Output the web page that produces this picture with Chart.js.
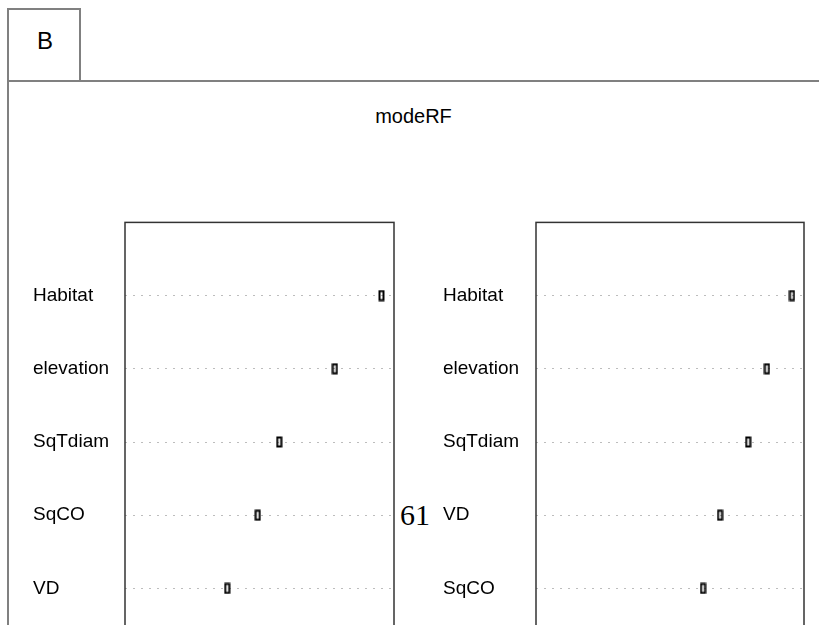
<!DOCTYPE html>
<html>
<head>
<meta charset="utf-8">
<script src="https://cdn.jsdelivr.net/npm/chart.js@4/dist/chart.umd.min.js"></script>
<style>
  html, body { margin: 0; padding: 0; background: #fff; }
  body { width: 819px; height: 625px; overflow: hidden; position: relative; font-family: "Liberation Sans", Arial, sans-serif; }
  .tag { position: absolute; left: 7px; top: 8px; width: 74px; height: 74px; border: 2px solid #808080; box-sizing: border-box; }
  .tag span { position: absolute; left: 28px; top: 19px; font: 24px/24px "Liberation Sans", Arial, sans-serif; color: #000; }
  .frame { position: absolute; left: 7px; top: 80px; width: 830px; height: 600px; border-left: 2px solid #808080; border-top: 2px solid #808080; }
  .title { position: absolute; left: 8px; width: 811px; top: 106px; text-align: center; font: 20px/20px "Liberation Sans", Arial, sans-serif; color: #000; }
  .pageno { position: absolute; left: 400px; top: 500px; font: 30px/30px "Liberation Serif", "Times New Roman", serif; color: #000; }
  canvas.panel { position: absolute; }
</style>
</head>
<body>
<div class="frame"></div>
<div class="tag"><span>B</span></div>
<div class="title">modeRF</div>
<canvas id="left" class="panel" width="367" height="468" style="left:33px;top:208px;width:367px;height:468px"></canvas>
<canvas id="right" class="panel" width="367" height="468" style="left:443px;top:208px;width:367px;height:468px"></canvas>
<div class="pageno">61</div>
<script>
// Variable importance, first measure (top to bottom)
const leftVars = ["Habitat", "elevation", "SqTdiam", "SqCO", "VD"];
const leftValues = [28.6, 23.4, 17.2, 14.8, 11.4];
const leftRange = [0, 30];

// Variable importance, second measure (top to bottom)
const rightVars = ["Habitat", "elevation", "SqTdiam", "VD", "SqCO"];
const rightValues = [57.3, 51.7, 47.5, 41.2, 37.4];
const rightRange = [0, 60];

// Open, slightly tall marker like R's pch = 1 on a stretched device
function makeMarker() {
  const c = document.createElement('canvas');
  c.width = 7; c.height = 12;
  const g = c.getContext('2d');
  g.strokeStyle = '#000';
  g.lineWidth = 2;
  g.strokeRect(1.5, 1.5, 4, 9);
  return c;
}
const marker = makeMarker();

// Box around the plotting region
const boxPlugin = {
  id: 'plotBox',
  afterDraw(chart) {
    const a = chart.chartArea, ctx = chart.ctx;
    ctx.save();
    ctx.strokeStyle = '#333';
    ctx.lineWidth = 1.5;
    ctx.strokeRect(a.left, a.top, a.right - a.left, a.bottom - a.top + 40);
    ctx.restore();
  }
};

function dotChart(id, vars, values, range, axisWidth) {
  const points = values.map((v, i) => ({ x: v, y: i + 1 }));
  return new Chart(document.getElementById(id), {
    type: 'scatter',
    data: {
      datasets: [{
        data: points,
        pointStyle: marker,
        pointRadius: 5,
        pointHoverRadius: 5
      }]
    },
    options: {
      responsive: false,
      animation: false,
      events: [],
      layout: { padding: { top: 6, right: 6, bottom: 6, left: 0 } },
      plugins: { legend: { display: false }, tooltip: { enabled: false } },
      scales: {
        x: { display: false, min: range[0], max: range[1] },
        y: {
          reverse: true,
          min: 0,
          max: vars.length + 1,
          afterBuildTicks(scale) {
            scale.ticks = vars.map((_, i) => ({ value: i + 1 }));
          },
          afterFit(scale) { scale.width = axisWidth; },
          ticks: {
            crossAlign: 'far',
            color: '#000',
            font: { family: "'Liberation Sans', Arial, sans-serif", size: 19 },
            callback: (v) => vars[v - 1] || ''
          },
          grid: { color: '#bdbdbd', lineWidth: 1, drawTicks: false },
          border: { display: false, dash: [2, 6] }
        }
      }
    },
    plugins: [boxPlugin]
  });
}

dotChart('left', leftVars, leftValues, leftRange, 92);
dotChart('right', rightVars, rightValues, rightRange, 93);
</script>
</body>
</html>
